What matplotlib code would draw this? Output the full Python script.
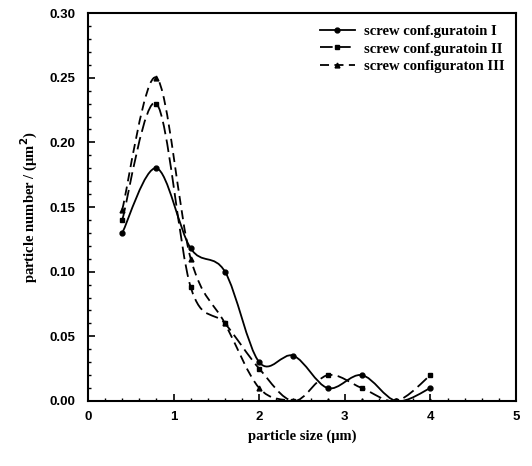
import numpy as np
import matplotlib.pyplot as plt
from matplotlib.path import Path
from matplotlib.patches import PathPatch
from matplotlib.lines import Line2D
from matplotlib.ticker import MultipleLocator, FormatStrFormatter

size = [0.4, 0.8, 1.2, 1.6, 2.0, 2.4, 2.8, 3.2, 3.6, 4.0]
config_1 = [0.13, 0.18, 0.118, 0.10, 0.03, 0.035, 0.01, 0.02, 0.0, 0.01]
config_2 = [0.14, 0.23, 0.088, 0.06, 0.025, 0.0, 0.02, 0.01, 0.0, 0.02]
config_3 = [0.148, 0.25, 0.11, 0.06, 0.01, 0.0, 0.0, 0.0, 0.0, 0.0]
labels = ['screw conf.guratoin I', 'screw conf.guratoin II', 'screw configuraton III']


def spline_path(x, y, tension=0.5):
    # Catmull-Rom segments expressed as cubic bezier pieces
    x = np.asarray(x, float)
    y = np.asarray(y, float)
    pts = np.column_stack([x, y])
    verts = [pts[0]]
    codes = [Path.MOVETO]
    n = len(pts)
    for i in range(n - 1):
        p0 = pts[max(i - 1, 0)]
        p1 = pts[i]
        p2 = pts[i + 1]
        p3 = pts[min(i + 2, n - 1)]
        c1 = p1 + (p2 - p0) * tension / 3.0
        c2 = p2 - (p3 - p1) * tension / 3.0
        verts += [c1, c2, p2]
        codes += [Path.CURVE4] * 3
    return Path(verts, codes)


plt.rcParams['font.family'] = ['Liberation Serif', 'DejaVu Serif']
plt.rcParams['font.weight'] = 'bold'

fig = plt.figure(figsize=(5.32, 4.66), dpi=100)
ax = fig.add_axes([0.1654, 0.1395, 0.8046, 0.8325])

styles = [
    dict(ls='-', marker='o', ms=3.5),
    dict(ls=(0, (7, 3)), marker='s', ms=3),
    dict(ls=(0, (5, 3)), marker='^', ms=3.5),
]
series = [config_1, config_2, config_3]

handles = []
for vals, st, lab in zip(series, styles, labels):
    patch = PathPatch(spline_path(size, vals), facecolor='none', edgecolor='black',
                      lw=1.3, linestyle=st['ls'])
    ax.add_patch(patch)
    ax.plot(size, vals, ls='none', marker=st['marker'], ms=st['ms'], color='black')
    handles.append(Line2D([], [], color='black', lw=1.3, ls=st['ls'],
                          marker=st['marker'], ms=st['ms']))

ax.set_xlim(0, 5)
ax.set_ylim(0, 0.30)
ax.xaxis.set_major_locator(MultipleLocator(1))
ax.xaxis.set_minor_locator(MultipleLocator(0.2))
ax.yaxis.set_major_locator(MultipleLocator(0.05))
ax.yaxis.set_minor_locator(MultipleLocator(0.01))
ax.yaxis.set_major_formatter(FormatStrFormatter('%.2f'))
ax.tick_params(which='both', direction='in', top=False, right=False)
ax.tick_params(which='major', length=5, width=1.2, labelsize=9.5)
ax.tick_params(axis='y', which='major', pad=9)
ax.tick_params(axis='x', which='major', pad=7)
ax.tick_params(which='minor', length=2.5, width=1)
for lab in ax.get_xticklabels() + ax.get_yticklabels():
    lab.set_family(['Liberation Sans', 'DejaVu Sans'])
    lab.set_weight('bold')
for sp in ax.spines.values():
    sp.set_linewidth(1.5)

ax.set_xlabel('particle size (\u03bcm)', fontsize=10.5, fontweight='bold', labelpad=5)
ax.set_ylabel('particle number / (\u03bcm$^2$)', fontsize=10.5, fontweight='bold', labelpad=7)

ax.legend(handles, labels, loc='upper right', frameon=False,
          handlelength=2.4, handletextpad=0.6, labelspacing=0.3,
          borderaxespad=0.4, prop={'weight': 'bold', 'size': 10.5})

fig.savefig('out.png', dpi=100)
